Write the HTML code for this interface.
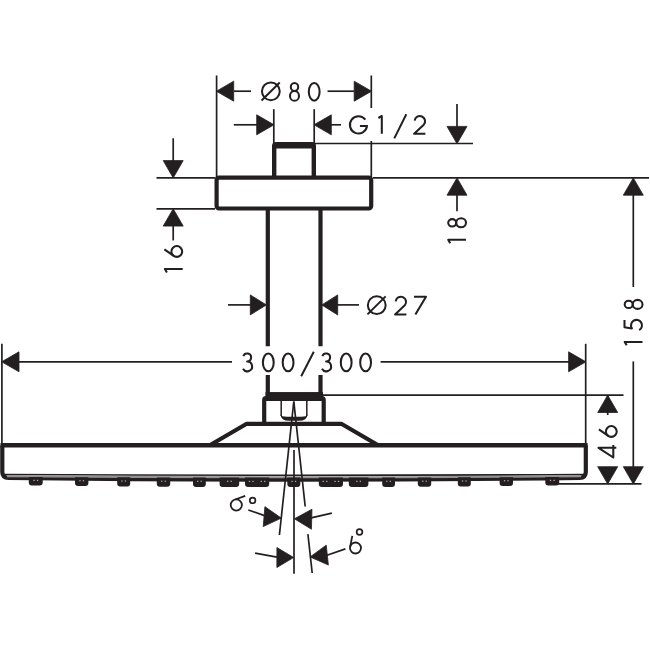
<!DOCTYPE html>
<html><head><meta charset="utf-8"><style>
html,body{margin:0;padding:0;background:#fff;width:650px;height:650px;overflow:hidden}
svg{display:block}
text{font-family:"Liberation Sans",sans-serif;fill:#231f20;stroke:none}
</style></head><body>
<svg width="650" height="650" viewBox="0 0 650 650" fill="#231f20" stroke="#231f20" stroke-linecap="butt">
<g>
<line x1="216.60" y1="75.50" x2="216.60" y2="177.60" stroke-width="1.7"/>
<line x1="371.30" y1="75.50" x2="371.30" y2="108.00" stroke-width="1.7"/>
<line x1="371.30" y1="141.00" x2="371.30" y2="177.60" stroke-width="1.7"/>
<polygon stroke-width="0.8" stroke-linejoin="round" points="216.40,91.20 233.70,81.20 233.70,101.20"/>
<line x1="234.00" y1="91.20" x2="251.00" y2="91.20" stroke-width="1.7"/>
<polygon stroke-width="0.8" stroke-linejoin="round" points="371.50,91.20 354.20,101.20 354.20,81.20"/>
<line x1="327.50" y1="91.20" x2="354.00" y2="91.20" stroke-width="1.7"/>
<circle cx="270.85" cy="91.3" r="8.9" fill="none" stroke-width="2.0"/>
<line x1="261.55" y1="100.50" x2="279.75" y2="82.50" stroke-width="2.0"/>
<g transform="translate(289.10,82.10)" fill="none" stroke-width="2.05" stroke-linejoin="round"><ellipse cx="5.4" cy="4.9" rx="3.7" ry="4.0"/><ellipse cx="5.4" cy="13.8" rx="4.5" ry="4.9"/></g>
<g transform="translate(307.90,82.00)" fill="none" stroke-width="2.05" stroke-linejoin="round"><ellipse cx="6.3" cy="9.8" rx="5.4" ry="8.9"/></g>
<line x1="273.80" y1="109.20" x2="273.80" y2="145.00" stroke-width="1.7"/>
<line x1="314.20" y1="109.20" x2="314.20" y2="145.00" stroke-width="1.7"/>
<polygon stroke-width="0.8" stroke-linejoin="round" points="274.00,124.80 256.70,134.80 256.70,114.80"/>
<line x1="233.80" y1="124.80" x2="257.00" y2="124.80" stroke-width="1.7"/>
<polygon stroke-width="0.8" stroke-linejoin="round" points="314.00,124.80 331.30,114.80 331.30,134.80"/>
<line x1="330.00" y1="124.80" x2="341.00" y2="124.80" stroke-width="1.7"/>
<g transform="translate(349.10,115.10)" fill="none" stroke-width="2.05" stroke-linejoin="round"><path d="M16.27,4.62 A8.6,8.6 0 1 0 17.94,10.85 H10.8"/></g>
<g transform="translate(377.20,115.10)" fill="none" stroke-width="2.05" stroke-linejoin="round"><path d="M1.2,2.9 L4.6,0.9 V18.7"/></g>
<line x1="394.30" y1="138.40" x2="406.30" y2="114.30" stroke-width="2.0"/>
<g transform="translate(413.20,115.10)" fill="none" stroke-width="2.05" stroke-linejoin="round"><path d="M1.5,5.6 A5.2,5.2 0 1 1 10.58,9.54 L0.9,18.7 H12.2"/></g>
<line x1="314.00" y1="143.50" x2="473.00" y2="143.50" stroke-width="1.7"/>
<line x1="457.00" y1="104.00" x2="457.00" y2="128.00" stroke-width="1.7"/>
<polygon stroke-width="0.8" stroke-linejoin="round" points="457.00,143.70 447.00,126.40 467.00,126.40"/>
<line x1="156.50" y1="177.80" x2="215.00" y2="177.80" stroke-width="1.7"/>
<line x1="373.00" y1="177.80" x2="649.00" y2="177.80" stroke-width="1.7"/>
<line x1="156.50" y1="208.80" x2="215.00" y2="208.80" stroke-width="1.7"/>
<line x1="173.20" y1="138.30" x2="173.20" y2="162.00" stroke-width="1.7"/>
<polygon stroke-width="0.8" stroke-linejoin="round" points="173.20,177.90 163.20,160.60 183.20,160.60"/>
<polygon stroke-width="0.8" stroke-linejoin="round" points="173.20,208.80 183.20,226.10 163.20,226.10"/>
<line x1="173.20" y1="224.00" x2="173.20" y2="240.40" stroke-width="1.7"/>
<g transform="translate(163.50,257.80) rotate(-90)" fill="none" stroke-width="2.05" stroke-linejoin="round"><circle cx="6.3" cy="13.3" r="5.4"/><path d="M1.88,10.2 L8.4,0.9"/></g>
<g transform="translate(164.00,273.60) rotate(-90)" fill="none" stroke-width="2.05" stroke-linejoin="round"><path d="M1.2,2.9 L4.6,0.9 V18.7"/></g>
<polygon stroke-width="0.8" stroke-linejoin="round" points="457.00,177.90 467.00,195.20 447.00,195.20"/>
<line x1="457.00" y1="193.00" x2="457.00" y2="211.30" stroke-width="1.7"/>
<g transform="translate(447.30,228.20) rotate(-90)" fill="none" stroke-width="2.05" stroke-linejoin="round"><ellipse cx="5.4" cy="4.9" rx="3.7" ry="4.0"/><ellipse cx="5.4" cy="13.8" rx="4.5" ry="4.9"/></g>
<g transform="translate(447.30,244.40) rotate(-90)" fill="none" stroke-width="2.05" stroke-linejoin="round"><path d="M1.2,2.9 L4.6,0.9 V18.7"/></g>
<polygon stroke-width="0.8" stroke-linejoin="round" points="633.30,177.90 643.30,195.20 623.30,195.20"/>
<line x1="633.30" y1="193.00" x2="633.30" y2="287.00" stroke-width="1.7"/>
<line x1="633.30" y1="361.40" x2="633.30" y2="468.00" stroke-width="1.7"/>
<polygon stroke-width="0.8" stroke-linejoin="round" points="633.30,484.00 623.30,466.70 643.30,466.70"/>
<g transform="translate(623.80,309.80) rotate(-90)" fill="none" stroke-width="2.05" stroke-linejoin="round"><ellipse cx="5.4" cy="4.9" rx="3.7" ry="4.0"/><ellipse cx="5.4" cy="13.8" rx="4.5" ry="4.9"/></g>
<g transform="translate(623.60,331.80) rotate(-90)" fill="none" stroke-width="2.05" stroke-linejoin="round"><path d="M11.8,0.9 H4.6 L3.4,8.3 A5.5,5.5 0 1 1 1.6,15.6"/></g>
<g transform="translate(623.80,346.50) rotate(-90)" fill="none" stroke-width="2.05" stroke-linejoin="round"><path d="M1.2,2.9 L4.6,0.9 V18.7"/></g>
<line x1="323.00" y1="395.20" x2="623.50" y2="395.20" stroke-width="1.7"/>
<polygon stroke-width="0.8" stroke-linejoin="round" points="607.70,395.20 617.70,412.50 597.70,412.50"/>
<line x1="607.70" y1="395.00" x2="607.70" y2="415.00" stroke-width="1.7"/>
<g transform="translate(598.00,437.80) rotate(-90)" fill="none" stroke-width="2.05" stroke-linejoin="round"><circle cx="6.3" cy="13.3" r="5.4"/><path d="M1.88,10.2 L8.4,0.9"/></g>
<g transform="translate(597.60,458.40) rotate(-90)" fill="none" stroke-width="2.05" stroke-linejoin="round"><path d="M10.6,18.7 V0.9 L0.9,15.7 H13.5"/></g>
<polygon stroke-width="0.8" stroke-linejoin="round" points="607.70,484.00 597.70,466.70 617.70,466.70"/>
<line x1="558.00" y1="483.80" x2="641.50" y2="483.80" stroke-width="1.7"/>
<polygon stroke-width="0.8" stroke-linejoin="round" points="266.40,304.90 250.30,314.90 250.30,294.90"/>
<line x1="228.00" y1="304.90" x2="252.00" y2="304.90" stroke-width="1.7"/>
<polygon stroke-width="0.8" stroke-linejoin="round" points="321.80,304.90 337.70,294.90 337.70,314.90"/>
<line x1="336.00" y1="304.90" x2="359.00" y2="304.90" stroke-width="1.7"/>
<circle cx="376.75" cy="305.15" r="8.9" fill="none" stroke-width="2.0"/>
<line x1="367.45" y1="314.35" x2="385.65" y2="296.35" stroke-width="2.0"/>
<g transform="translate(394.20,295.80)" fill="none" stroke-width="2.05" stroke-linejoin="round"><path d="M1.5,5.6 A5.2,5.2 0 1 1 10.58,9.54 L0.9,18.7 H12.2"/></g>
<g transform="translate(413.10,295.80)" fill="none" stroke-width="2.05" stroke-linejoin="round"><path d="M0.9,0.9 H12.9 L2.3,18.7"/></g>
<path fill-rule="evenodd" stroke="none" d="M272,179 V146 Q272,142 276,142 H312 Q316,142 316,146 V179 Z M276.4,148.4 V179 H311.6 V148.4 Z"/>
<rect x="216.6" y="177.6" width="154.6" height="30.9" rx="2.5" fill="none" stroke-width="4.2"/>
<line x1="267.80" y1="208.50" x2="267.80" y2="346.20" stroke-width="4.2"/>
<line x1="267.80" y1="375.00" x2="267.80" y2="396.00" stroke-width="4.2"/>
<line x1="320.50" y1="208.50" x2="320.50" y2="346.20" stroke-width="4.2"/>
<line x1="320.50" y1="375.00" x2="320.50" y2="396.00" stroke-width="4.2"/>
<line x1="1.90" y1="343.80" x2="1.90" y2="446.00" stroke-width="1.7"/>
<line x1="585.70" y1="343.80" x2="585.70" y2="446.00" stroke-width="1.7"/>
<polygon stroke-width="0.8" stroke-linejoin="round" points="1.70,361.80 19.00,351.80 19.00,371.80"/>
<polygon stroke-width="0.8" stroke-linejoin="round" points="585.90,361.80 568.60,371.80 568.60,351.80"/>
<line x1="18.00" y1="361.80" x2="232.00" y2="361.80" stroke-width="1.7"/>
<line x1="380.60" y1="361.80" x2="570.00" y2="361.80" stroke-width="1.7"/>
<g transform="translate(241.70,352.60)" fill="none" stroke-width="2.05" stroke-linejoin="round"><path d="M1.64,3.53 A4.0,4.0 0 1 1 5.4,8.9 A4.9,4.9 0 1 1 1.26,16.25"/></g>
<g transform="translate(262.00,352.60)" fill="none" stroke-width="2.05" stroke-linejoin="round"><ellipse cx="6.3" cy="9.8" rx="5.4" ry="8.9"/></g>
<g transform="translate(281.80,352.60)" fill="none" stroke-width="2.05" stroke-linejoin="round"><ellipse cx="6.3" cy="9.8" rx="5.4" ry="8.9"/></g>
<line x1="301.20" y1="376.30" x2="313.80" y2="351.70" stroke-width="2.0"/>
<g transform="translate(320.70,352.60)" fill="none" stroke-width="2.05" stroke-linejoin="round"><path d="M1.64,3.53 A4.0,4.0 0 1 1 5.4,8.9 A4.9,4.9 0 1 1 1.26,16.25"/></g>
<g transform="translate(339.90,352.60)" fill="none" stroke-width="2.05" stroke-linejoin="round"><ellipse cx="6.3" cy="9.8" rx="5.4" ry="8.9"/></g>
<g transform="translate(359.30,352.60)" fill="none" stroke-width="2.05" stroke-linejoin="round"><ellipse cx="6.3" cy="9.8" rx="5.4" ry="8.9"/></g>
<rect x="266" y="392.6" width="56.5" height="5" />
<path d="M264.2,424 V400 Q264.2,398 266.2,398 H321.7 Q323.7,398 323.7,400 V424" fill="none" stroke-width="4.2"/>
<line x1="266" y1="399.0" x2="322" y2="399.0" stroke-width="4"/>
<line x1="281.20" y1="400.50" x2="281.20" y2="416.00" stroke-width="1.5"/>
<line x1="306.80" y1="400.50" x2="306.80" y2="416.00" stroke-width="1.5"/>
<path stroke="none" d="M280.45,414.5 Q280.9,420.8 289,420.8 H299 Q307.1,420.8 307.55,414.5 Q306.5,416.7 301,416.7 H287 Q281.5,416.7 280.45,414.5 Z"/>
<path d="M209.8,445.3 L246.7,423.8 H341.3 L378.2,445.3" fill="none" stroke-width="4.2" stroke-linejoin="round"/>
<path d="M2.3,445.3 V472 Q2.3,477.8 8.5,477.8 Q294,481.4 579.6,477.8 Q585.8,477.8 585.8,472 V445.3" fill="none" stroke-width="4.2"/>
<path d="M4,474.5 Q294,476.1 584,474.5" fill="none" stroke-width="1.6"/>
<path d="M7,476.25 Q294,478.4 581,476.25" fill="none" stroke="#949090" stroke-width="1.9"/>
<line x1="0.50" y1="445.30" x2="587.60" y2="445.30" stroke-width="4.4"/>
<path d="M28.8,476.9 V482.5 Q28.8,485.4692830334002 31.8,485.4692830334002 H39.7 Q42.7,485.4692830334002 42.7,482.5 V476.9 Z" stroke="none"/>
<rect x="33.4" y="479.8" width="1.3" height="1.2" fill="#b8a8a8" stroke="none"/><rect x="36.9" y="479.8" width="1.3" height="1.2" fill="#b8a8a8" stroke="none"/>
<path d="M75.0,477.2 V483.0 Q75.0,485.9979585798817 78.0,485.9979585798817 H85.4 Q88.4,485.9979585798817 88.4,483.0 V477.2 Z" stroke="none"/>
<rect x="79.3" y="480.1" width="1.3" height="1.2" fill="#b8a8a8" stroke="none"/><rect x="82.8" y="480.1" width="1.3" height="1.2" fill="#b8a8a8" stroke="none"/>
<path d="M117.2,477.3 V483.4 Q117.2,486.39086776859506 120.2,486.39086776859506 H127.2 Q130.2,486.39086776859506 130.2,483.4 V477.3 Z" stroke="none"/>
<rect x="121.3" y="480.4" width="1.3" height="1.2" fill="#b8a8a8" stroke="none"/><rect x="124.8" y="480.4" width="1.3" height="1.2" fill="#b8a8a8" stroke="none"/>
<path d="M156.8,477.4 V483.7 Q156.8,486.68359210719353 159.8,486.68359210719353 H167.2 Q170.2,486.68359210719353 170.2,483.7 V477.4 Z" stroke="none"/>
<rect x="161.1" y="480.6" width="1.3" height="1.2" fill="#b8a8a8" stroke="none"/><rect x="164.6" y="480.6" width="1.3" height="1.2" fill="#b8a8a8" stroke="none"/>
<path d="M193.0,477.5 V483.9 Q193.0,486.8811834319527 196.0,486.8811834319527 H202.8 Q205.8,486.8811834319527 205.8,483.9 V477.5 Z" stroke="none"/>
<rect x="197.0" y="480.7" width="1.3" height="1.2" fill="#b8a8a8" stroke="none"/><rect x="200.5" y="480.7" width="1.3" height="1.2" fill="#b8a8a8" stroke="none"/>
<path d="M219.6,477.6 V484.0 Q219.6,486.9979617585212 222.6,486.9979617585212 H236.2 Q239.2,486.9979617585212 239.2,484.0 V477.6 Z" stroke="none"/>
<rect x="227.0" y="480.7" width="1.3" height="1.2" fill="#b8a8a8" stroke="none"/><rect x="230.5" y="480.7" width="1.3" height="1.2" fill="#b8a8a8" stroke="none"/>
<path d="M245.0,477.6 V484.1 Q245.0,487.06670717394496 248.0,487.06670717394496 H266.2 Q269.2,487.06670717394496 269.2,484.1 V477.6 Z" stroke="none"/>
<rect x="248.8" y="480.8" width="1.3" height="1.2" fill="#b8a8a8" stroke="none"/><rect x="252.3" y="480.8" width="1.3" height="1.2" fill="#b8a8a8" stroke="none"/>
<rect x="260.6" y="480.8" width="1.3" height="1.2" fill="#b8a8a8" stroke="none"/><rect x="264.1" y="480.8" width="1.3" height="1.2" fill="#b8a8a8" stroke="none"/>
<path d="M287.3,477.6 V484.1 Q287.3,487.0999990219571 290.3,487.0999990219571 H297.3 Q300.3,487.0999990219571 300.3,484.1 V477.6 Z" stroke="none"/>
<rect x="291.4" y="480.8" width="1.3" height="1.2" fill="#b8a8a8" stroke="none"/><rect x="294.9" y="480.8" width="1.3" height="1.2" fill="#b8a8a8" stroke="none"/>
<path d="M545.3,476.9 V482.5 Q545.3,485.4692830334002 548.3,485.4692830334002 H556.2 Q559.2,485.4692830334002 559.2,482.5 V476.9 Z" stroke="none"/>
<rect x="549.9" y="479.8" width="1.3" height="1.2" fill="#b8a8a8" stroke="none"/><rect x="553.4" y="479.8" width="1.3" height="1.2" fill="#b8a8a8" stroke="none"/>
<path d="M499.6,477.2 V483.0 Q499.6,485.9979585798817 502.6,485.9979585798817 H510.0 Q513.0,485.9979585798817 513.0,483.0 V477.2 Z" stroke="none"/>
<rect x="503.9" y="480.1" width="1.3" height="1.2" fill="#b8a8a8" stroke="none"/><rect x="507.4" y="480.1" width="1.3" height="1.2" fill="#b8a8a8" stroke="none"/>
<path d="M457.8,477.3 V483.4 Q457.8,486.39086776859506 460.8,486.39086776859506 H467.8 Q470.8,486.39086776859506 470.8,483.4 V477.3 Z" stroke="none"/>
<rect x="461.9" y="480.4" width="1.3" height="1.2" fill="#b8a8a8" stroke="none"/><rect x="465.4" y="480.4" width="1.3" height="1.2" fill="#b8a8a8" stroke="none"/>
<path d="M417.8,477.4 V483.7 Q417.8,486.68359210719353 420.8,486.68359210719353 H428.2 Q431.2,486.68359210719353 431.2,483.7 V477.4 Z" stroke="none"/>
<rect x="422.1" y="480.6" width="1.3" height="1.2" fill="#b8a8a8" stroke="none"/><rect x="425.6" y="480.6" width="1.3" height="1.2" fill="#b8a8a8" stroke="none"/>
<path d="M382.2,477.5 V483.9 Q382.2,486.8811834319527 385.2,486.8811834319527 H392.0 Q395.0,486.8811834319527 395.0,483.9 V477.5 Z" stroke="none"/>
<rect x="386.2" y="480.7" width="1.3" height="1.2" fill="#b8a8a8" stroke="none"/><rect x="389.7" y="480.7" width="1.3" height="1.2" fill="#b8a8a8" stroke="none"/>
<path d="M348.8,477.6 V484.0 Q348.8,486.9979617585212 351.8,486.9979617585212 H365.4 Q368.4,486.9979617585212 368.4,484.0 V477.6 Z" stroke="none"/>
<rect x="356.2" y="480.7" width="1.3" height="1.2" fill="#b8a8a8" stroke="none"/><rect x="359.7" y="480.7" width="1.3" height="1.2" fill="#b8a8a8" stroke="none"/>
<path d="M318.8,477.6 V484.1 Q318.8,487.06670717394496 321.8,487.06670717394496 H340.0 Q343.0,487.06670717394496 343.0,484.1 V477.6 Z" stroke="none"/>
<rect x="322.6" y="480.8" width="1.3" height="1.2" fill="#b8a8a8" stroke="none"/><rect x="326.1" y="480.8" width="1.3" height="1.2" fill="#b8a8a8" stroke="none"/>
<rect x="334.4" y="480.8" width="1.3" height="1.2" fill="#b8a8a8" stroke="none"/><rect x="337.9" y="480.8" width="1.3" height="1.2" fill="#b8a8a8" stroke="none"/>
<line x1="293.80" y1="401.50" x2="279.40" y2="535.00" stroke-width="1.7"/>
<line x1="293.80" y1="401.50" x2="305.20" y2="506.50" stroke-width="1.7"/>
<line x1="307.90" y1="534.20" x2="312.20" y2="573.00" stroke-width="1.7"/>
<line x1="294.00" y1="450.00" x2="294.00" y2="573.80" stroke-width="1.7"/>
<polygon stroke-width="0.8" stroke-linejoin="round" points="281.30,518.12 263.21,526.60 264.92,506.67"/>
<line x1="248.30" y1="510.00" x2="264.50" y2="515.60" stroke-width="1.7"/>
<polygon stroke-width="0.8" stroke-linejoin="round" points="294.40,518.80 311.94,509.22 311.45,529.22"/>
<line x1="310.00" y1="518.20" x2="331.90" y2="513.10" stroke-width="1.7"/>
<polygon stroke-width="0.8" stroke-linejoin="round" points="293.60,557.50 276.90,567.50 276.90,547.50"/>
<line x1="255.10" y1="553.20" x2="277.00" y2="557.20" stroke-width="1.7"/>
<polygon stroke-width="0.8" stroke-linejoin="round" points="310.10,556.92 326.24,545.13 328.37,565.02"/>
<line x1="327.00" y1="555.20" x2="345.40" y2="548.90" stroke-width="1.7"/>
<circle cx="236.3" cy="505" r="5.6" fill="none" stroke-width="1.8"/>
<path d="M235.2,499.5 L245.2,495.8" fill="none" stroke-width="1.8"/>
<circle cx="252.6" cy="500.4" r="2.85" fill="none" stroke-width="1.7"/>
<circle cx="355.5" cy="548" r="5.5" fill="none" stroke-width="1.8"/>
<path d="M350.2,546.6 L352.3,535.8" fill="none" stroke-width="1.8"/>
<circle cx="359.5" cy="532" r="2.85" fill="none" stroke-width="1.7"/>
</g>
</svg>
</body></html>
